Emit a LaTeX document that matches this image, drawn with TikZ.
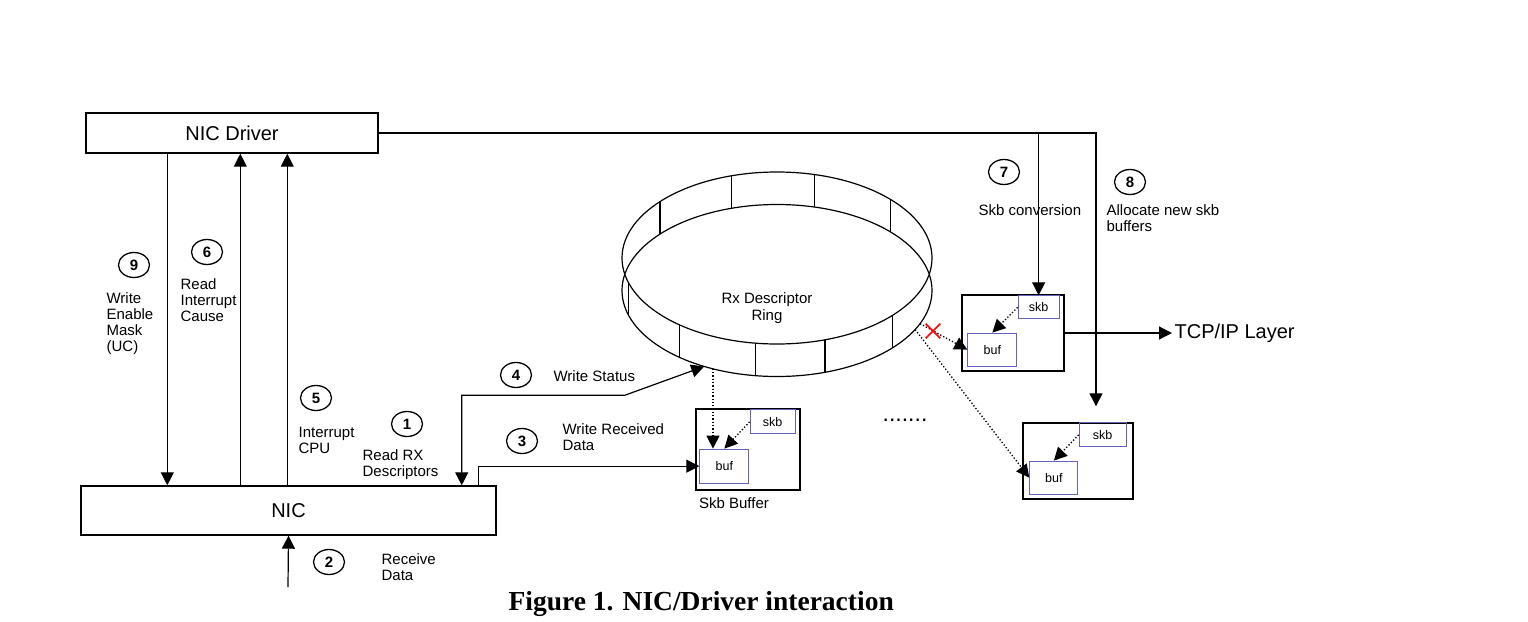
\documentclass[tikz,border=0pt]{standalone}
\usepackage{fontspec}
\setmainfont{Liberation Sans}
\newfontfamily\capfont{Liberation Serif}
\usetikzlibrary{arrows.meta,calc,shapes.geometric,shapes.misc}
\definecolor{bufblue}{RGB}{100,100,190}

\begin{document}
\begin{tikzpicture}[x=1pt, y=-1pt, line width=1.2pt,
  >={Triangle[length=13pt,width=13pt]},
  unit/.style={draw, line width=1.4pt, minimum height=40pt, font=\fontsize{20}{20}\selectfont},
  stepnum/.style={ellipse, draw, line width=1.3pt, minimum width=31pt, minimum height=25pt, inner sep=0pt, font=\bfseries\fontsize{15}{15}\selectfont},
  lbl/.style={align=left, anchor=north west, inner sep=0pt, font=\fontsize{15}{16}\selectfont},
  skbbox/.style={draw, line width=1.4pt, inner sep=0pt},
  inbox/.style={draw=bufblue, line width=1.1pt, inner sep=0pt, font=\fontsize{12.5}{13}\selectfont},
  ptr/.style={->, dotted, line width=1.3pt}]
 \useasboundingbox (0,0) rectangle (1528,621);

 \node[unit, minimum width=292pt] (drv) at (232,133) {NIC Driver};
 \node[unit, minimum width=415pt, minimum height=49pt] (nic) at (288.5,510.5) {NIC};

 \node[skbbox, minimum width=104pt, minimum height=81pt] (sbA) at (748,449.5) {};
 \node[inbox, minimum width=45pt, minimum height=24pt, anchor=north east] (skbA) at ([xshift=-5pt,yshift=-1pt]sbA.north east) {skb};
 \node[inbox, minimum width=49pt, minimum height=34pt, anchor=south west] (bufA) at ([xshift=4pt,yshift=7pt]sbA.south west) {buf};
 \node[skbbox, minimum width=102pt, minimum height=76pt] (sbB) at (1013,333) {};
 \node[inbox, minimum width=41pt, minimum height=23pt, anchor=north east] (skbB) at ([xshift=-5pt,yshift=-1pt]sbB.north east) {skb};
 \node[inbox, minimum width=49pt, minimum height=33pt, anchor=south west] (bufB) at ([xshift=6pt,yshift=5pt]sbB.south west) {buf};
 \node[skbbox, minimum width=110pt, minimum height=76pt] (sbC) at (1078,461) {};
 \node[inbox, minimum width=47pt, minimum height=24pt, anchor=north east] (skbC) at ([xshift=-7pt]sbC.north east) {skb};
 \node[inbox, minimum width=48pt, minimum height=33pt, anchor=south west] (bufC) at ([xshift=7pt,yshift=5pt]sbC.south west) {buf};
 \foreach \g in {A,B,C}
  \draw[ptr] (skb\g.west) -- (buf\g.north);

 \coordinate (rtop) at (777,258);
 \coordinate (rlo) at (777,290.5);
 \draw (rtop) ellipse [x radius=155, y radius=86] (rlo) ellipse [x radius=155, y radius=86];
 \foreach \a in {42,72,98,129,163,221,253,284,317}
  \draw ($(rtop)+(\a:155 and 86)$) -- ($(rlo)+(\a:155 and 86)$);
 \node[align=center, font=\fontsize{15}{17}\selectfont] (ringlbl) at (767,308.5) {Rx Descriptor\\Ring};
 \coordinate (ws) at ($(rlo)+(118:155 and 86)$);
 \coordinate (rd) at ($(rlo)+(114.4:155 and 86)$);
 \coordinate (rx1) at ($(rlo)+(22.7:155 and 86)$);
 \coordinate (rx2) at ($(rlo)+(27:155 and 86)$);

 \draw[ptr] (rd) -- (rd |- bufA.north);
 \draw[ptr] (rx1) -- (bufB.west);
 \draw[ptr] (rx2) -- (bufC.west);
 \node[cross out, draw=red, line width=1.6pt, minimum size=13pt, inner sep=0pt] (xmark) at (933,331) {};

 \draw[->] ([xshift=82pt]drv.south west) coordinate (l9) -- (l9 |- nic.north);
 \draw[<-] ([xshift=155pt]drv.south west) coordinate (l6) -- (l6 |- nic.north);
 \draw[<-] ([xshift=202pt]drv.south west) coordinate (l5) -- (l5 |- nic.north);
 \coordinate (wire) at (288,587);
 \draw[->] (wire) -- (nic.south);
 \draw[<->] ([xshift=-35pt]nic.north east) -- ++(0,-90) -- ++(163,0) -- (ws);
 \draw[->] ([xshift=-18pt]nic.north east) |- (bufA.west);

 \coordinate (a8) at ([xshift=18pt,yshift=16pt]sbC.north);
 \draw[->] (drv.east) -| (a8);
 \draw[->] (drv.east -| skbB.north) -- (skbB.north);
 \node[font=\fontsize{20}{20}\selectfont, anchor=west, inner sep=2pt] (tcp) at (1172,333) {TCP/IP Layer};
 \draw[->] (sbB.east) -- (tcp.west);

 \node[stepnum] (n9) at (134,265) {9};
 \node[stepnum] (n6) at (207,252) {6};
 \node[stepnum] (n5) at (316,398) {5};
 \node[stepnum] (n1) at (407,424) {1};
 \node[stepnum] (n2) at (329,562) {2};
 \node[stepnum] (n3) at (522,441) {3};
 \node[stepnum] (n4) at (516,375) {4};
 \node[stepnum] (n7) at (1004,172) {7};
 \node[stepnum] (n8) at (1130,182) {8};

 \node[lbl] (t9) at (106,292.5) {Write\\Enable\\Mask\\(UC)};
 \node[lbl] (t6) at (180,278.5) {Read\\Interrupt\\Cause};
 \node[lbl] (t5) at (298,426.5) {Interrupt\\CPU};
 \node[lbl] (t1) at (362,449.5) {Read RX\\Descriptors};
 \node[lbl] (t2) at (381,553.5) {Receive\\Data};
 \node[lbl] (t3) at (562,423.5) {Write Received\\Data};
 \node[lbl] (t4) at (553,370.5) {Write Status};
 \node[lbl] (t7) at (978,204.5) {Skb conversion};
 \node[lbl] (t8) at (1106,204.5) {Allocate new skb\\buffers};
 \node[font=\fontsize{15}{16}\selectfont] (sblbl) at (734,503) {Skb Buffer};
 \node[font=\fontsize{23}{23}\selectfont] (gap) at (905,420) {.......};
 \node[anchor=base west, inner sep=0pt, font=\capfont\bfseries\fontsize{27.5}{28}\selectfont] (cap) at (508,610) {Figure 1. NIC/Driver interaction};
\end{tikzpicture}
\end{document}
